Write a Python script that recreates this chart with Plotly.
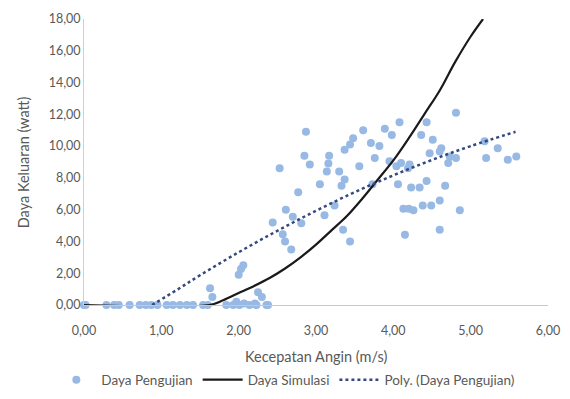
import plotly.graph_objects as go

# Daya Pengujian (measured) — wind speed (m/s) and power (watt)
uji_v = [0.00, 0.02, 0.29, 0.39, 0.45, 0.59, 0.72, 0.80, 0.87, 0.95, 1.07, 1.15, 1.24, 1.33,
         1.41, 1.54, 1.60, 1.63, 1.66, 1.84, 1.93, 1.97, 2.01, 2.07, 2.14, 2.21, 2.23, 2.25,
         2.30, 2.36, 2.38, 2.00, 2.03, 2.06,
         2.44, 2.53, 2.57, 2.60, 2.61, 2.68, 2.70, 2.77, 2.81, 2.87, 2.85, 2.92, 3.05, 3.11,
         3.17, 3.14, 3.16, 3.24, 3.30, 3.33, 3.37, 3.35, 3.44, 3.37, 3.44, 3.48, 3.56, 3.61,
         3.71, 3.82, 3.76, 3.73, 3.89, 3.98, 4.08, 3.95, 4.04, 4.19, 4.06, 4.23, 4.10, 4.21,
         4.13, 4.20, 4.26, 4.15, 4.34, 4.43, 4.38, 4.49, 4.60, 4.67, 4.86, 4.60, 4.43, 4.36,
         4.51, 4.62, 4.47, 4.60, 4.73, 4.81, 4.71, 4.81, 5.18, 5.35, 5.20, 5.48, 5.59]
uji_p = [0.00, 0.00, 0.00, 0.00, 0.00, 0.00, 0.00, 0.00, 0.00, 0.00, 0.00, 0.00, 0.00, 0.00,
         0.00, 0.00, 0.00, 1.05, 0.50, 0.00, 0.00, 0.20, 0.00, 0.10, 0.00, 0.10, 0.00, 0.80,
         0.50, 0.00, 0.00, 1.90, 2.26, 2.50,
         5.20, 8.60, 4.45, 4.00, 6.00, 3.50, 5.55, 7.10, 5.14, 10.90, 9.40, 8.85, 7.60, 5.65,
         9.40, 8.40, 8.90, 6.27, 8.40, 7.50, 7.90, 4.73, 4.00, 9.77, 10.10, 10.50, 8.74, 11.00,
         10.20, 10.00, 9.25, 7.60, 11.10, 10.70, 11.50, 9.05, 8.74, 8.60, 7.60, 7.40, 8.94, 8.84,
         6.06, 6.06, 5.96, 4.42, 7.40, 7.80, 6.27, 6.27, 6.58, 7.50, 5.96, 4.73, 11.50, 10.70,
         10.40, 9.86, 9.55, 9.66, 9.35, 9.25, 8.94, 12.10, 10.30, 9.86, 9.25, 9.14, 9.35]

# Daya Simulasi (simulated power curve)
sim_v = [0.00, 1.62, 1.80, 2.00, 2.20, 2.40, 2.60, 2.80, 3.00, 3.20, 3.40, 3.60, 3.80,
         4.00, 4.20, 4.40, 4.60, 4.80, 5.00, 5.16]
sim_p = [0.00, 0.00, 0.30, 0.75, 1.20, 1.70, 2.30, 3.00, 3.80, 4.70, 5.60, 6.70, 7.90,
         9.10, 10.50, 12.00, 13.50, 15.30, 16.90, 18.00]

# Poly. (Daya Pengujian) trendline
poly_v = [0.88, 1.20, 1.50, 2.00, 2.50, 3.00, 3.50, 4.00, 4.50, 5.00, 5.58]
poly_p = [0.00, 0.95, 1.87, 3.32, 4.67, 5.93, 7.10, 8.16, 9.13, 10.00, 10.90]

x_ticks = [0, 1, 2, 3, 4, 5, 6]
x_text = ["0,00", "1,00", "2,00", "3,00", "4,00", "5,00", "6,00"]
y_ticks = [0, 2, 4, 6, 8, 10, 12, 14, 16, 18]
y_text = ["0,00", "2,00", "4,00", "6,00", "8,00", "10,00", "12,00", "14,00", "16,00", "18,00"]

FONT = "Lato"
GRAY = "#595959"

fig = go.Figure()
fig.add_trace(go.Scatter(
    x=uji_v, y=uji_p, mode="markers", name="Daya Pengujian",
    marker=dict(size=8, color="#97B9E4", line=dict(width=0)),
    cliponaxis=False,
))
fig.add_trace(go.Scatter(
    x=sim_v, y=sim_p, mode="lines", name="Daya Simulasi",
    line=dict(color="#1a1a1a", width=2.2, shape="spline"),
    cliponaxis=False,
))
fig.add_trace(go.Scatter(
    x=poly_v, y=poly_p, mode="lines", name="Poly. (Daya Pengujian)",
    line=dict(color="#34497F", width=2.5, dash="dot", shape="spline"),
    cliponaxis=False,
))

fig.update_layout(
    width=570, height=399, autosize=False,
    margin=dict(l=76, r=30, t=11, b=71),
    paper_bgcolor="white", plot_bgcolor="white",
    font=dict(family=FONT, size=12, color=GRAY),
    showlegend=True,
    legend=dict(orientation="h", x=0.435, xanchor="center", y=-0.262, yanchor="middle",
                font=dict(size=13.5, color=GRAY, family=FONT), itemwidth=40, tracegroupgap=0),
    xaxis=dict(range=[0, 6], tickvals=x_ticks, ticktext=x_text, showgrid=False,
               zeroline=False, showline=True, linecolor="#C8C8C8", linewidth=1,
               ticks="", ticklabelstandoff=14, automargin=False,
               tickfont=dict(size=12.5, color=GRAY, family=FONT)),
    yaxis=dict(range=[0, 18], tickvals=y_ticks, ticktext=y_text, showgrid=False,
               zeroline=False, showline=True, linecolor="#D0D0D0", linewidth=1,
               ticks="", ticklabelstandoff=0, automargin=False,
               tickfont=dict(size=12.5, color=GRAY, family=FONT)),
    annotations=[
        dict(text="Kecepatan Angin (m/s)", xref="paper", yref="paper",
             x=0.5, y=-0.18, xanchor="center", yanchor="middle", showarrow=False,
             font=dict(size=14.5, color=GRAY, family=FONT)),
        dict(text="Daya Keluaran (watt)", xref="paper", yref="paper",
             x=-0.131, y=0.5, xanchor="center", yanchor="middle", showarrow=False,
             textangle=-90, font=dict(size=14.5, color=GRAY, family=FONT)),
    ],
)

fig.write_html("out.html")
